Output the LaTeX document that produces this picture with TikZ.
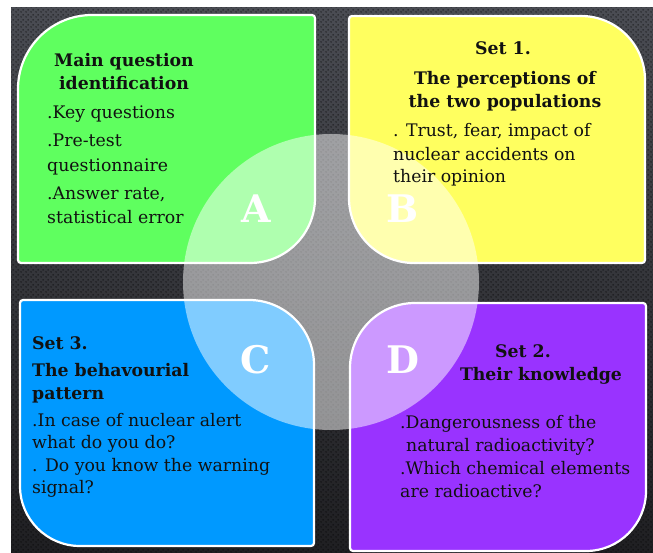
\documentclass[tikz,border=0pt]{standalone}
\usepackage{fontspec}
\setmainfont{DejaVu Serif}
\usetikzlibrary{patterns}
\definecolor{cA}{HTML}{5FFF5F}
\definecolor{cB}{HTML}{FFFF5F}
\definecolor{cC}{HTML}{0099FF}
\definecolor{cD}{HTML}{9933FF}
\definecolor{bgtop}{HTML}{4A4C53}
\definecolor{bgbot}{HTML}{1F1F22}
\definecolor{ink}{HTML}{111111}
\pgfdeclarepatternformonly{bgdots}{\pgfpointorigin}{\pgfpoint{5pt}{5pt}}{\pgfpoint{5pt}{5pt}}{%
  \pgfpathcircle{\pgfpoint{1.25pt}{1.25pt}}{1pt}%
  \pgfpathcircle{\pgfpoint{3.75pt}{3.75pt}}{1pt}%
  \pgfusepath{fill}}
% #1 style, #2 x1, #3 y1, #4 x2, #5 y2, #6 rTL, #7 rTR, #8 rBR, #9 rBL
\newcommand\quadbox[9]{%
 \draw[#1] (#2,{#3+#6}) .. controls (#2,{#3+#6-0.5523*#6}) and ({#2+#6-0.5523*#6},#3) .. ({#2+#6},#3)
 -- ({#4-#7},#3) .. controls ({#4-#7+0.5523*#7},#3) and (#4,{#3+#7-0.5523*#7}) .. (#4,{#3+#7})
 -- (#4,{#5-#8}) .. controls (#4,{#5-#8+0.5523*#8}) and ({#4-#8+0.5523*#8},#5) .. ({#4-#8},#5)
 -- ({#2+#9},#5) .. controls ({#2+#9-0.5523*#9},#5) and (#2,{#5-#9+0.5523*#9}) .. (#2,{#5-#9})
 -- cycle;}
\begin{document}
\begin{tikzpicture}[x=1pt,y=-1pt,
  qbox/.style={draw=white,line width=2.2pt,line join=round},
  txt/.style={font=\fontsize{17.3}{20}\selectfont,text=ink,inner sep=0pt,anchor=base west},
  hdl/.style={txt,font=\fontsize{17.3}{20}\selectfont\bfseries},
  hdc/.style={hdl,anchor=base},
  letter/.style={font=\fontsize{38}{40}\selectfont\bfseries,text=white,inner sep=0pt,anchor=base}]
\useasboundingbox (0,0) rectangle (653,553);
\fill[white] (0,0) rectangle (653,553);
\shade[top color=bgtop,bottom color=bgbot] (11,8) rectangle (653,553);
\fill[pattern=bgdots,pattern color=black,fill opacity=0.5] (11,8) rectangle (653,553);
% quadrants
\quadbox{qbox,fill=cA}{18}{15}{315}{263}{74}{3}{65}{3}
\quadbox{qbox,fill=cB}{349}{16}{645}{263}{3}{64}{3}{65}
\quadbox{qbox,fill=cC}{20}{300}{314}{546}{3}{65}{3}{60}
\quadbox{qbox,fill=cD}{350}{303}{646}{551}{65}{3}{60}{3}
% central circle
\fill[white,fill opacity=0.5] (331,282) circle[radius=148pt];
% letters
\node[letter] (lA) at (256,223) {A};
\node[letter] (lB) at (403,223) {B};
\node[letter] (lC) at (256,373) {C};
\node[letter] (lD) at (403,373) {D};
% A texts
\node[hdc] (a1) at (124,67) {Main question};
\node[hdc] (a2) at (124,90) {identification};
\node[txt] (a3) at (47,119) {.Key questions};
\node[txt] (a4) at (47,147) {.Pre-test};
\node[txt] (a5) at (47,172) {questionnaire};
\node[txt] (a6) at (47,200) {.Answer rate,};
\node[txt] (a7) at (47,224) {statistical error};
% B texts
\node[hdc] (b1) at (503,55) {Set 1.};
\node[hdc] (b2) at (505,85) {The perceptions of};
\node[hdc] (b3) at (505,108) {the two populations};
\node[txt] (b4) at (393,137) {. Trust, fear, impact of};
\node[txt] (b5) at (393,161) {nuclear accidents on};
\node[txt] (b6) at (393,183) {their opinion};
% C texts
\node[hdl] (c1) at (32,349) {Set 3.};
\node[hdl] (c2) at (32,376) {The behavourial};
\node[hdl] (c3) at (32,399) {pattern};
\node[txt] (c4) at (32,426) {.In case of nuclear alert};
\node[txt] (c5) at (32,448) {what do you do?};
\node[txt] (c6) at (32,471) {. Do you know the warning};
\node[txt] (c7) at (32,493) {signal?};
% D texts
\node[hdc] (d1) at (523,357) {Set 2.};
\node[hdc] (d2) at (541,380) {Their knowledge};
\node[txt] (d3) at (400,428) {.Dangerousness of the};
\node[txt] (d4) at (406,451) {natural radioactivity?};
\node[txt] (d5) at (400,474) {.Which chemical elements};
\node[txt] (d6) at (400,497) {are radioactive?};
\end{tikzpicture}
\end{document}
